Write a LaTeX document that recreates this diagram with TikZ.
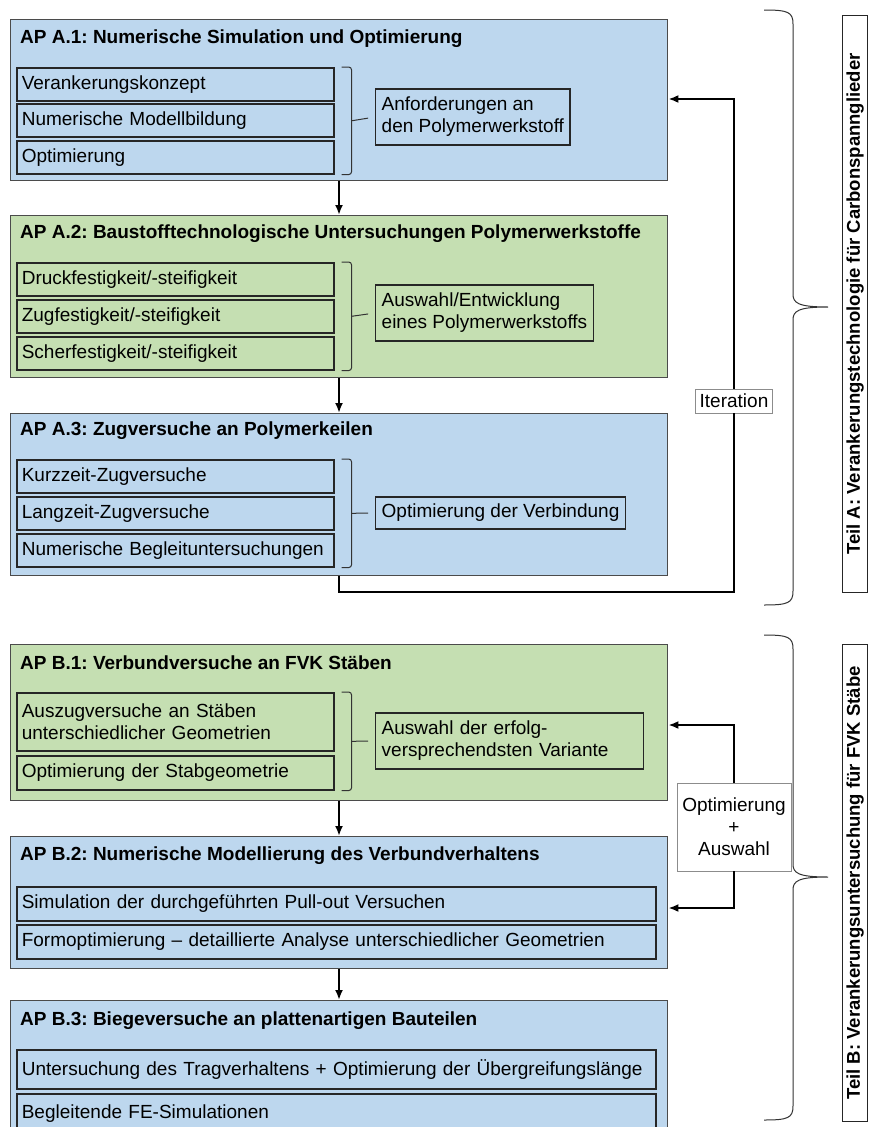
\documentclass[tikz,border=0pt]{standalone}
\usepackage{fontspec}
\setmainfont{Liberation Sans}
\usetikzlibrary{arrows.meta,calc}
\frenchspacing

\definecolor{apblau}{RGB}{189,215,238}
\definecolor{apgruen}{RGB}{197,223,178}
\definecolor{rahmen}{RGB}{75,75,75}

\tikzset{
  ap/.style={draw=rahmen, line width=1.4pt, anchor=north west, inner sep=0pt, minimum width=657pt},
  titel/.style={anchor=west, inner sep=0pt, font=\fontsize{19}{22}\selectfont\bfseries},
  unter/.style={draw=black!85, line width=1.6pt, anchor=north west, inner xsep=5pt, inner ysep=0pt,
    text width=#1, align=left, minimum height=33pt},
  ergebnis/.style={draw=black!85, line width=1.4pt, anchor=west, inner xsep=6pt, inner ysep=8pt, align=left},
  schild/.style={draw=black!45, fill=white, line width=0.9pt, inner xsep=4pt, inner ysep=5pt, align=center},
  teilbox/.style={draw=black!85, line width=1.1pt, fill=white, anchor=north west, inner sep=0pt, minimum width=25pt},
  pfeil/.style={-{Latex[length=10pt,width=8pt]}, line width=2pt},
  linie/.style={line width=2pt},
  klammer/.style={line width=1pt, draw=black!80, rounded corners=3pt},
  bogen/.style={line width=1pt, draw=black!80}
}

\begin{document}
\begin{tikzpicture}[x=1pt, y=-1pt, font=\fontsize{19}{22}\selectfont]
  \clip (0,0) rectangle (868,1127);
  \useasboundingbox (0,0) rectangle (868,1127);

  % Teil A
  \node[ap, fill=apblau, minimum height=161pt] (a1) at (10,19) {};
  \node[titel] (a1t) at (20,39) {AP A.1: Numerische Simulation und Optimierung};
  \node[unter=307pt, fill=apblau] (a1s1) at (16,67) {Verankerungskonzept};
  \node[unter=307pt, fill=apblau] (a1s2) at (16,103) {Numerische Modellbildung};
  \node[unter=307pt, fill=apblau] (a1s3) at (16,140) {Optimierung};
  \node[ergebnis] (a1e) at (375,117) {Anforderungen an\\den Polymerwerkstoff};

  \node[ap, fill=apgruen, minimum height=162pt] (a2) at (10,215) {};
  \node[titel] (a2t) at (20,234) {AP A.2: Baustofftechnologische Untersuchungen Polymerwerkstoffe};
  \node[unter=307pt, fill=apgruen] (a2s1) at (16,262) {Druckfestigkeit/-steifigkeit};
  \node[unter=307pt, fill=apgruen] (a2s2) at (16,299) {Zugfestigkeit/-steifigkeit};
  \node[unter=307pt, fill=apgruen] (a2s3) at (16,336) {Scherfestigkeit/-steifigkeit};
  \node[ergebnis] (a2e) at (375,313) {Auswahl/Entwicklung\\eines Polymerwerkstoffs};

  \node[ap, fill=apblau, minimum height=162pt] (a3) at (10,413) {};
  \node[titel] (a3t) at (20,431) {AP A.3: Zugversuche an Polymerkeilen};
  \node[unter=307pt, fill=apblau] (a3s1) at (16,459) {Kurzzeit-Zugversuche};
  \node[unter=307pt, fill=apblau] (a3s2) at (16,496) {Langzeit-Zugversuche};
  \node[unter=307pt, fill=apblau] (a3s3) at (16,533) {Numerische Begleituntersuchungen};
  \node[ergebnis, inner ysep=7pt] (a3e) at (375,513) {Optimierung der Verbindung};

  \foreach \g in {a1,a2,a3} {
    \draw[klammer] ([xshift=7pt]\g s1.north east) -| ([xshift=17pt]\g s3.south east)
      -- ([xshift=7pt]\g s3.south east);
    \draw[bogen, shorten >=7pt] ($([xshift=17pt]\g s1.north east)!0.5!([xshift=17pt]\g s3.south east)$)
      -- (\g e.west);
  }

  \coordinate (mitte) at (339,0);
  \draw[pfeil] (a1.south -| mitte) -- (a2.north -| mitte);
  \draw[pfeil] (a2.south -| mitte) -- (a3.north -| mitte);

  \node[schild] (iter) at (734,401) {Iteration};
  \coordinate (iu) at (734,592);
  \coordinate (io) at (734,99);
  \draw[linie] (a3.south -| mitte) |- (iu) -- (iter.south);
  \draw[pfeil] (iter.north) -- (io) -- (a1.east |- io);

  \draw[bogen] (764,10) .. controls (788,10) and (793,12) .. (793,24) -- (793,294)
    .. controls (793,303) and (798,307) .. (828,307)
    .. controls (798,307) and (793,311) .. (793,320) -- (793,591)
    .. controls (793,603) and (788,605) .. (764,605);
  \node[teilbox, minimum height=577pt] (ta) at (842,15) {};
  \node[rotate=90, font=\bfseries\fontsize{18.5}{20}\selectfont] (tat) at (ta.center)
    {Teil A: Verankerungstechnologie für Carbonspannglieder};

  % Teil B
  \node[ap, fill=apgruen, minimum height=156pt] (b1) at (10,644) {};
  \node[titel] (b1t) at (20,663) {AP B.1: Verbundversuche an FVK Stäben};
  \node[unter=307pt, fill=apgruen, minimum height=58pt] (b1s1) at (16,692)
    {Auszugversuche an Stäben\\unterschiedlicher Geometrien};
  \node[unter=307pt, fill=apgruen, minimum height=34pt] (b1s2) at (16,755) {Optimierung der Stabgeometrie};
  \node[ergebnis, text width=256pt] (b1e) at (375,741) {Auswahl der erfolg-\\versprechendsten Variante};
  \draw[klammer] ([xshift=7pt]b1s1.north east) -| ([xshift=17pt]b1s2.south east)
    -- ([xshift=7pt]b1s2.south east);
  \draw[bogen, shorten >=7pt] ($([xshift=17pt]b1s1.north east)!0.5!([xshift=17pt]b1s2.south east)$)
    -- (b1e.west);

  \node[ap, fill=apblau, minimum height=132pt] (b2) at (10,836) {};
  \node[titel] (b2t) at (20,856) {AP B.2: Numerische Modellierung des Verbundverhaltens};
  \node[unter=629pt, fill=apblau, minimum height=34pt] (b2s1) at (16,886) {Simulation der durchgeführten Pull-out Versuchen};
  \node[unter=629pt, fill=apblau, minimum height=34pt] (b2s2) at (16,924) {Formoptimierung – detaillierte Analyse unterschiedlicher Geometrien};

  \node[ap, fill=apblau, minimum height=140pt] (b3) at (10,1000) {};
  \node[titel] (b3t) at (20,1021) {AP B.3: Biegeversuche an plattenartigen Bauteilen};
  \node[unter=629pt, fill=apblau, minimum height=39pt] (b3s1) at (16,1049) {Untersuchung des Tragverhaltens + Optimierung der Übergreifungslänge};
  \node[unter=629pt, fill=apblau, minimum height=39pt] (b3s2) at (16,1093) {Begleitende FE-Simulationen};

  \draw[pfeil] (b1.south -| mitte) -- (b2.north -| mitte);
  \draw[pfeil] (b2.south -| mitte) -- (b3.north -| mitte);

  \node[schild, minimum width=114pt, minimum height=88pt] (optaus) at (734,827) {Optimierung\\+\\Auswahl};
  \coordinate (oo) at (734,725);
  \coordinate (ou) at (734,908);
  \draw[pfeil] (optaus.north) -- (oo) -- (b1.east |- oo);
  \draw[pfeil] (optaus.south) -- (ou) -- (b2.east |- ou);

  \draw[bogen] (764,635) .. controls (788,635) and (793,637) .. (793,649) -- (793,864)
    .. controls (793,873) and (798,877) .. (828,877)
    .. controls (798,877) and (793,881) .. (793,890) -- (793,1106)
    .. controls (793,1118) and (788,1120) .. (764,1120);
  \node[teilbox, minimum height=477pt] (tb) at (842,644) {};
  \node[rotate=90, font=\bfseries\fontsize{18.5}{20}\selectfont] (tbt) at (tb.center)
    {Teil B: Verankerungsuntersuchung für FVK Stäbe};
\end{tikzpicture}
\end{document}
